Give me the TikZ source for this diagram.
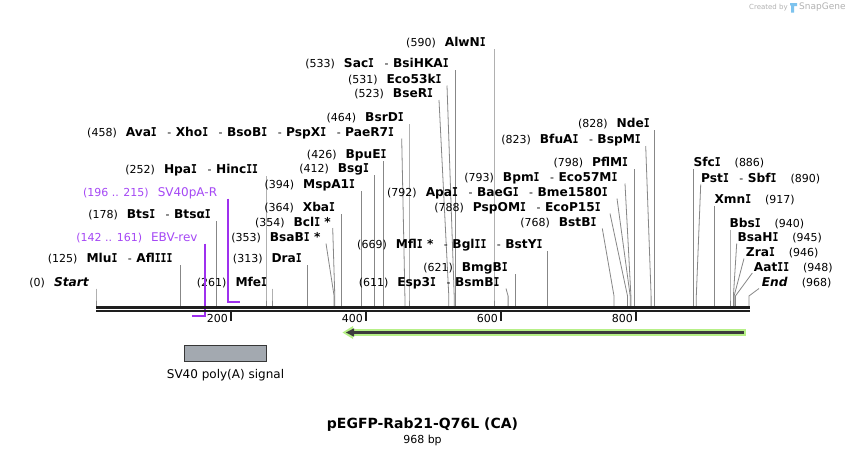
\documentclass[tikz,border=0pt]{standalone}
\usepackage{fontspec}
\usepackage{graphicx}
\usetikzlibrary{calc}
\setmainfont{DejaVu Sans}
\newfontfamily\monobf{DejaVu Sans Mono}
\definecolor{cutgray}{RGB}{135,135,135}
\definecolor{primer}{RGB}{158,48,238}
\definecolor{primertext}{RGB}{165,72,245}
\definecolor{barblack}{RGB}{30,30,30}
\definecolor{featgray}{RGB}{163,169,176}
\definecolor{featedge}{RGB}{55,55,55}
\definecolor{arrowgreen}{RGB}{182,240,135}
\definecolor{arrowdark}{RGB}{60,60,60}
\definecolor{logogray}{RGB}{178,178,178}
\definecolor{logoblue}{RGB}{125,195,238}
\newcommand{\vI}{\scalebox{0.8}[1]{\monobf\bfseries I}}
\newcommand{\cnum}[1]{{\mdseries\fontsize{11}{13}\selectfont(#1)}}
\newcommand{\gp}{\hspace{9pt}}
\newcommand{\sepr}{\hspace{10.5pt}{\mdseries\fontsize{11}{13}\selectfont-}\hspace{4.5pt}}
\newcommand{\rgp}{\hspace{14pt}}
% #1 anchor, #2 id, #3 text, #4 x, #5 baseline y, #6 top x, #7 top y, #8 site x
\newcommand{\cutsite}[8]{%
  \node[lbl, anchor=#1] (#2) at (#4,#5) {#3};
  \coordinate (#2-t) at (#6,#7);
  \coordinate (#2-k) at (#8,296);
  \coordinate (#2-b) at (#8,306);
  \draw[cutline] (#2-t) -- (#2-k) -- (#2-b);}
\tikzset{
  lbl/.style={inner sep=0pt, font=\fontsize{12.2}{14}\selectfont\bfseries},
  plbl/.style={inner sep=0pt, text=primertext, font=\fontsize{12}{14}\selectfont},
  cutline/.style={draw=cutgray, line width=0.8pt},
  primerline/.style={draw=primer, line width=2pt},
  ticklbl/.style={inner sep=0pt, font=\fontsize{11}{13}\selectfont},
}
\begin{document}
\begin{tikzpicture}[x=1pt,y=-1pt]
\useasboundingbox (0,0) rectangle (846,456);
\fill[white] (0,0) rectangle (846,456);

% logo
\node[inner sep=0pt, anchor=west, text=logogray, font=\fontsize{7}{8}\selectfont] (cr) at (749,7.5) {Created by};
\fill[logoblue] (790,3) -- (797,3) -- (797,6) -- (794,6) -- (794,12.5) -- (791,12.5) -- (791,6) -- (790,5) -- cycle;
\node[inner sep=0pt, anchor=west, text=logogray, font=\fontsize{9}{10}\selectfont] (sg) at (799,7.5) {SnapGene};

% left-side labels
\cutsite{base east}{start}{\cnum{0}\gp\textit{Start}}{89.3}{286}{96}{288.5}{96.0}
\cutsite{base east}{mlu}{\cnum{125}\gp Mlu\vI\sepr Afl\vI\vI\vI}{172.7}{262.6}{180.3}{265}{180.3}
\cutsite{base east}{bts}{\cnum{178}\gp Bts\vI\sepr Btsα\vI}{211}{218.3}{216.1}{221}{216.1}
\cutsite{base east}{hpa}{\cnum{252}\gp Hpa\vI\sepr Hinc\vI\vI}{258.3}{173.3}{266}{176}{266.0}
\cutsite{base east}{mfe}{\cnum{261}\gp Mfe\vI}{267.3}{286}{272}{288.5}{272.0}
\cutsite{base east}{dra}{\cnum{313}\gp Dra\vI}{302}{262.6}{307.1}{265}{307.1}
\cutsite{base east}{bsab}{\cnum{353}\gp BsaB\vI{} *}{320.7}{241}{326}{243.5}{334.1}
\cutsite{base east}{bcl}{\cnum{354}\gp Bcl\vI{} *}{331}{226.3}{332.7}{228}{334.8}
\cutsite{base east}{xba}{\cnum{364}\gp Xba\vI}{335.3}{211.6}{341.5}{214}{341.5}
\cutsite{base east}{msp}{\cnum{394}\gp MspA1\vI}{355.3}{188.3}{361.8}{191}{361.8}
\cutsite{base east}{bsg}{\cnum{412}\gp Bsg\vI}{369.3}{172.6}{373.9}{175}{373.9}
\cutsite{base east}{bpu}{\cnum{426}\gp BpuE\vI}{386.7}{158.3}{383.3}{161}{383.3}
\cutsite{base east}{ava}{\cnum{458}\gp Ava\vI\sepr Xho\vI\sepr BsoB\vI\sepr PspX\vI\sepr PaeR7\vI}{394.3}{136}{401.7}{138.5}{404.9}
\cutsite{base east}{bsr}{\cnum{464}\gp BsrD\vI}{404}{121.6}{409}{124}{409.0}
\cutsite{base east}{bser}{\cnum{523}\gp BseR\vI}{433.3}{97.6}{439}{100}{448.8}
\cutsite{base east}{ecok}{\cnum{531}\gp Eco53k\vI}{441.7}{83}{447}{85.5}{454.2}
\cutsite{base east}{sac}{\cnum{533}\gp Sac\vI\sepr BsiHKA\vI}{449}{67.6}{455.5}{70}{455.5}
\cutsite{base east}{alw}{\cnum{590}\gp AlwN\vI}{486}{46.6}{494}{49}{494.0}
\cutsite{base east}{esp}{\cnum{611}\gp Esp3\vI\sepr BsmB\vI}{499.7}{286}{506}{288.5}{508.1}
\cutsite{base east}{bmg}{\cnum{621}\gp BmgB\vI}{508}{271.3}{514.9}{274}{514.9}
\cutsite{base east}{mfl}{\cnum{669}\gp Mfl\vI{} *\sepr Bgl\vI\vI\sepr BstY\vI}{542.7}{248.3}{547.2}{251}{547.2}
\cutsite{base east}{bstb}{\cnum{768}\gp BstB\vI}{596.7}{226.3}{602.3}{228.5}{614.0}
\cutsite{base east}{pspo}{\cnum{788}\gp PspOM\vI\sepr EcoP15\vI}{601}{211.3}{610}{213.5}{627.5}
\cutsite{base east}{apa}{\cnum{792}\gp Apa\vI\sepr BaeG\vI\sepr Bme1580\vI}{608}{196.3}{617}{198.5}{630.2}
\cutsite{base east}{bpm}{\cnum{793}\gp Bpm\vI\sepr Eco57M\vI}{617.7}{181}{625}{183.5}{630.9}
\cutsite{base east}{pfl}{\cnum{798}\gp PflM\vI}{628.3}{166.3}{634.3}{169}{634.3}
\cutsite{base east}{bfu}{\cnum{823}\gp BfuA\vI\sepr BspM\vI}{641}{143.6}{645.7}{146}{651.1}
\cutsite{base east}{nde}{\cnum{828}\gp Nde\vI}{650}{127.6}{654.5}{130}{654.5}

% right-side labels
\cutsite{base west}{sfc}{Sfc\vI\rgp\cnum{886}}{693.3}{166.6}{693.6}{169}{693.6}
\cutsite{base west}{pst}{Pst\vI\sepr Sbf\vI\rgp\cnum{890}}{701}{182}{700.7}{184.5}{696.3}
\cutsite{base west}{xmn}{Xmn\vI\rgp\cnum{917}}{714.3}{203.6}{714.5}{206}{714.5}
\cutsite{base west}{bbs}{Bbs\vI\rgp\cnum{940}}{729.3}{227}{730}{229.5}{730.0}
\cutsite{base west}{bsah}{BsaH\vI\rgp\cnum{945}}{737.3}{241.3}{736.7}{243.5}{733.4}
\cutsite{base west}{zra}{Zra\vI\rgp\cnum{946}}{745.7}{256.6}{744}{258.5}{734.1}
\cutsite{base west}{aat}{Aat\vI\vI\rgp\cnum{948}}{753.7}{271}{752.3}{273}{735.4}
\cutsite{base west}{endl}{\textit{End}\rgp\cnum{968}}{761.7}{286.3}{759}{288.5}{748.9}

% primers
\node[plbl, anchor=base east] (ebv) at (197.7,241) {{\fontsize{11}{13}\selectfont(142 .. 161)}\gp EBV-rev};
\coordinate (ebv-t) at (204.6,243.5);
\coordinate (ebv-k) at (204.6,315.5);
\coordinate (ebv-e) at (191.5,315.5);
\draw[primerline] (ebv-t) -- (ebv-k) -- (ebv-e);
\node[plbl, anchor=base east] (sv) at (217.3,196) {{\fontsize{11}{13}\selectfont(196 .. 215)}\gp SV40pA-R};
\coordinate (sv-t) at (228,198.5);
\coordinate (sv-k) at (228,301.7);
\coordinate (sv-e) at (240,301.7);
\draw[primerline] (sv-t) -- (sv-k) -- (sv-e);

% sequence bar
\draw[barblack, line width=2.8pt] (96,307.3) -- (749.8,307.3);
\draw[barblack, line width=2.3pt] (96,311.2) -- (749.8,311.2);

% ticks
\foreach \v/\xx in {200/231,400/366,600/501,800/636}{
  \draw[barblack, line width=1.4pt] (\xx,312) -- (\xx,320.5);
  \node[ticklbl, anchor=base east] (tick\v) at (\xx-3,322.5) {\v};
}

% feature arrow (reverse)
\coordinate (ar-r) at (745.5,332.5);
\coordinate (ar-l) at (351,332.5);
\draw[arrowgreen, line width=7pt] (ar-r) -- (ar-l);
\fill[arrowgreen] (342.5,332.5) -- (353,326) -- (353,339) -- cycle;
\draw[arrowdark, line width=2.8pt] ($(ar-r)+(-1.5,0)$) -- ($(ar-l)+(1,0)$);
\fill[arrowdark] (346,332.5) -- (354,328.3) -- (354,336.7) -- cycle;

% SV40 poly(A) signal
\node[draw=featedge, fill=featgray, line width=0.9pt, minimum width=82.4pt, minimum height=16pt, inner sep=0pt] (polya) at (225.5,353.3) {};
\node[inner sep=0pt, font=\fontsize{12}{14}\selectfont] (polyalbl) at (225.5,375.3) {SV40 poly(A) signal};

% title
\node[inner sep=0pt, font=\fontsize{14}{16}\selectfont\bfseries] (title) at (422.5,425) {pEGFP-Rab21-Q76L (CA)};
\node[inner sep=0pt, font=\fontsize{11}{13}\selectfont] (bp) at (422.5,440.5) {968 bp};
\end{tikzpicture}
\end{document}
